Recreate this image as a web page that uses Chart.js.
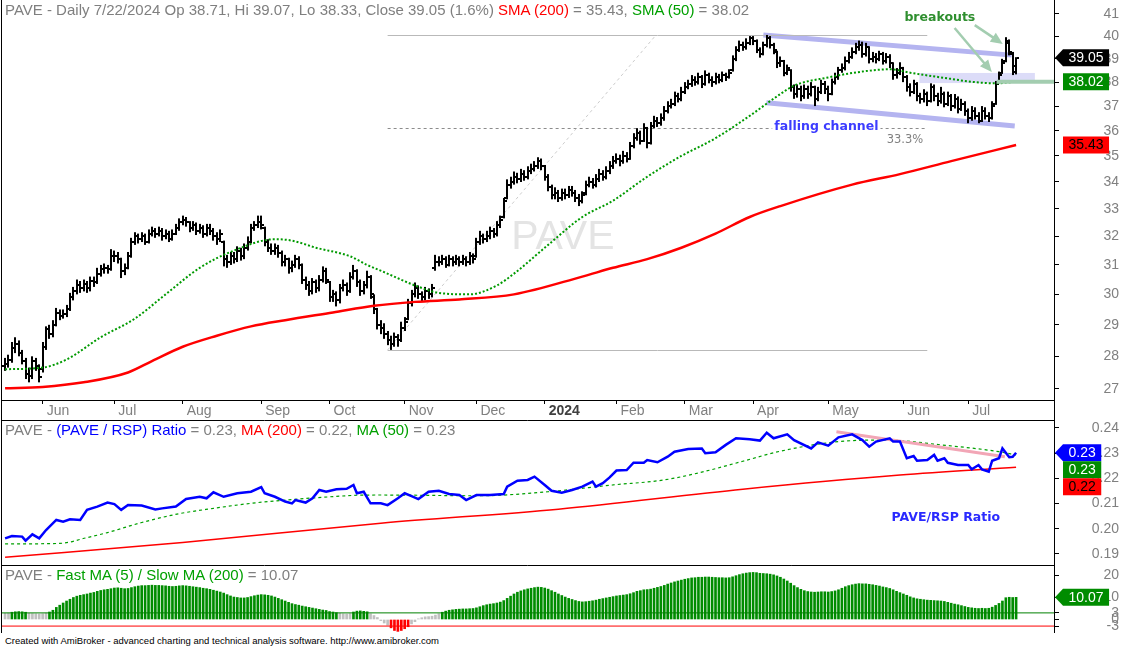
<!DOCTYPE html>
<html>
<head>
<meta charset="utf-8">
<title>PAVE Daily</title>
<script src="https://cdn.jsdelivr.net/npm/chart.js@4.4.1/dist/chart.umd.min.js"></script>
<style>
  html, body { margin:0; padding:0; background:#fff; }
  #wrap { position:relative; width:1123px; height:647px; overflow:hidden; background:#fff; }
  canvas { position:absolute; left:0; }
  .ttl { position:absolute; left:5px; white-space:nowrap; font-family:"Liberation Sans", Arial, sans-serif; font-size:15px; line-height:16px; color:#7f7f7f; }
  .r { color:#ff0000; } .g { color:#00a000; } .b { color:#0000ff; }
  .foot { position:absolute; left:5px; top:636px; font-family:"Liberation Sans", Arial, sans-serif; font-size:9.5px; line-height:10px; color:#000; white-space:nowrap; }
</style>
</head>
<body>
<div id="wrap">
  <canvas id="cTop" width="1123" height="420" style="top:0;width:1123px;height:420px"></canvas>
  <canvas id="cMid" width="1123" height="145" style="top:420px;width:1123px;height:145px"></canvas>
  <canvas id="cBot" width="1123" height="68" style="top:565px;width:1123px;height:68px"></canvas>
  <div class="ttl" id="tTop" style="top:2px"></div>
  <div class="ttl" id="tMid" style="top:422px"></div>
  <div class="ttl" id="tBot" style="top:567px"></div>
  <div class="foot">Created with AmiBroker - advanced charting and technical analysis software. http://www.amibroker.com</div>
</div>
<script>
// ---------- categories / ticks ----------
const monthLabels = ['Jun','Jul','Aug','Sep','Oct','Nov','Dec','2024','Feb','Mar','Apr','May','Jun','Jul'];
const monthStart  = [11,32,52,75,95,117,138,158,179,199,219,241,263,282];
const priceTicks  = [27,28,29,30,31,32,33,34,35,36,37,38,39,40,41];
const ratioTicks  = [0.19,0.20,0.21,0.22,0.23,0.24];
const oscTicks    = [20,10,3,0,-3];

// ---------- PAVE daily OHLC (16 May 2023 .. 22 Jul 2024) ----------
const opens = [
27.70,27.75,27.90,28.25,28.40,28.10,27.85,27.45,27.40,27.85,27.70,
27.60,28.30,28.85,28.70,29.00,29.40,29.30,29.35,29.50,29.90,30.10,30.30,30.20,30.35,30.20,30.45,30.40,30.70,30.85,30.90,30.85,
31.30,31.30,31.20,30.80,30.90,31.30,31.80,32.00,31.90,32.00,31.80,32.10,32.20,32.10,32.20,32.00,32.10,31.90,32.10,32.30,
32.50,32.60,32.50,32.30,32.40,32.20,32.30,32.10,32.30,32.20,32.00,31.90,31.80,31.20,31.10,31.30,31.20,31.50,31.30,31.60,31.80,32.30,32.40,
32.50,32.30,31.80,31.60,31.50,31.60,31.40,31.10,31.20,30.90,31.00,31.20,31.00,30.50,30.30,30.10,30.40,30.20,30.50,30.80,
30.40,29.90,30.00,29.80,30.20,30.30,30.10,30.60,30.80,30.40,30.10,30.30,30.60,29.90,29.50,29.00,28.90,28.70,28.50,28.40,28.60,28.50,
28.90,29.20,29.70,30.00,30.20,30.00,29.90,30.10,30.00,30.90,31.10,31.10,31.20,31.00,31.20,31.10,31.20,31.10,31.20,31.10,31.30,
31.30,31.80,32.00,31.90,32.00,32.20,32.10,32.40,32.70,33.40,33.90,34.00,34.20,34.10,34.30,34.20,34.40,34.50,34.60,34.80,
34.60,34.20,33.80,33.50,33.60,33.40,33.60,33.50,33.70,33.60,33.40,33.30,33.60,33.90,34.00,33.90,34.10,34.30,34.20,34.40,34.60,
34.80,34.90,34.80,35.00,34.90,35.40,35.70,35.90,35.60,36.10,35.50,36.20,36.40,36.30,36.50,36.80,37.00,37.10,37.40,37.30,
37.60,37.80,37.90,38.10,38.00,38.20,37.90,38.30,38.10,38.00,38.20,38.10,38.30,38.20,38.50,39.00,39.40,39.60,39.50,39.70,
39.90,39.80,39.40,39.20,39.60,39.90,39.60,39.30,38.80,38.90,38.40,38.50,37.80,37.50,37.70,37.40,37.70,37.50,37.80,37.30,37.60,37.90,
37.70,37.50,38.00,38.20,38.50,38.60,38.90,39.10,39.30,39.50,39.60,39.20,39.50,39.00,39.10,39.00,39.20,38.90,39.10,38.80,38.30,38.40,
38.60,38.20,37.80,37.60,37.90,37.40,37.30,37.50,37.20,37.80,37.40,37.20,37.50,37.10,37.40,37.00,37.30,36.90,37.10,
36.80,36.50,36.80,36.60,36.40,36.80,36.60,36.50,37.10,38.00,38.40,38.90,39.70,39.20,38.71];
const highs = [
27.95,28.05,28.45,28.60,28.50,28.20,27.95,27.65,28.00,27.95,27.75,
28.45,28.95,29.00,29.15,29.55,29.50,29.50,29.65,30.05,30.25,30.50,30.45,30.50,30.45,30.60,30.60,30.90,31.00,31.05,31.00,31.55,
31.50,31.45,31.25,31.05,31.45,31.95,32.15,32.10,32.15,32.10,32.25,32.35,32.30,32.35,32.30,32.25,32.20,32.25,32.45,32.65,
32.75,32.70,32.55,32.55,32.50,32.45,32.40,32.45,32.45,32.30,32.15,32.25,31.85,31.35,31.45,31.45,31.65,31.60,31.75,32.00,32.45,32.55,32.75,
32.75,32.35,31.90,31.75,31.75,31.70,31.50,31.35,31.25,31.15,31.35,31.30,31.05,30.60,30.45,30.55,30.50,30.65,30.95,30.90,
30.45,30.15,30.10,30.35,30.50,30.40,30.75,31.00,30.85,30.50,30.45,30.80,30.65,30.00,29.55,29.15,29.05,28.80,28.65,28.75,28.70,29.10,
29.25,29.85,30.15,30.40,30.30,30.10,30.25,30.20,30.35,31.35,31.30,31.35,31.30,31.35,31.30,31.35,31.30,31.35,31.30,31.45,31.40,
31.95,32.20,32.10,32.20,32.35,32.30,32.55,32.75,33.40,34.10,34.20,34.40,34.35,34.50,34.45,34.60,34.70,34.80,34.95,34.90,
34.65,34.30,33.90,33.80,33.70,33.75,33.75,33.85,33.85,33.70,33.55,33.65,34.05,34.20,34.15,34.30,34.50,34.45,34.60,34.80,35.00,
35.10,35.05,35.20,35.15,35.55,35.90,36.10,36.00,36.30,36.15,36.35,36.60,36.55,36.70,37.00,37.20,37.30,37.60,37.55,37.80,
38.00,38.10,38.30,38.25,38.40,38.30,38.50,38.40,38.25,38.40,38.35,38.45,38.40,38.55,39.15,39.55,39.80,39.75,39.90,40.00,
40.00,39.85,39.50,39.75,40.05,40.00,39.70,39.35,39.10,38.95,38.75,38.55,37.90,37.90,37.85,37.90,37.85,38.00,37.85,37.80,38.10,38.05,
37.85,38.15,38.40,38.65,38.80,39.10,39.30,39.50,39.70,39.80,39.75,39.70,39.55,39.30,39.25,39.35,39.30,39.25,39.20,38.85,38.60,38.85,
38.65,38.30,37.95,38.10,38.00,37.55,37.70,37.60,37.95,37.90,37.55,37.80,37.60,37.60,37.50,37.50,37.40,37.30,37.20,
36.90,37.00,36.95,36.75,37.00,36.95,36.75,37.20,38.05,38.45,39.00,39.95,39.85,39.30,39.07];
const lows = [
27.55,27.65,27.80,28.10,28.00,27.75,27.30,27.20,27.30,27.55,27.20,
27.50,28.20,28.55,28.60,28.95,29.15,29.20,29.25,29.45,29.80,30.00,30.05,30.10,30.05,30.10,30.25,30.35,30.60,30.70,30.70,30.80,
31.10,31.05,30.55,30.65,30.85,31.25,31.70,31.75,31.80,31.70,31.75,32.00,31.95,32.00,31.85,31.90,31.80,31.85,32.05,32.20,
32.40,32.35,32.15,32.20,32.05,32.10,31.95,32.00,32.05,31.85,31.70,31.80,30.95,30.90,31.00,31.05,31.10,31.15,31.20,31.50,31.75,32.20,32.30,
32.25,31.65,31.45,31.35,31.35,31.25,30.95,30.95,30.70,30.75,30.90,30.85,30.35,30.15,29.95,30.00,30.05,30.10,30.40,30.35,
29.75,29.75,29.60,29.70,30.10,29.95,30.05,30.50,30.25,29.95,30.00,30.20,29.85,29.35,28.85,28.70,28.55,28.35,28.20,28.30,28.30,28.45,
28.80,29.15,29.60,29.90,29.85,29.75,29.80,29.85,29.90,30.80,30.95,31.00,30.90,30.95,30.95,31.00,30.95,31.00,30.95,31.00,31.05,
31.25,31.70,31.75,31.80,31.90,31.95,32.00,32.30,32.65,33.35,33.75,33.90,33.95,34.00,34.05,34.10,34.30,34.40,34.50,34.45,
34.05,33.65,33.35,33.35,33.25,33.30,33.35,33.40,33.45,33.25,33.10,33.20,33.50,33.80,33.75,33.80,34.00,34.05,34.10,34.30,34.50,
34.70,34.60,34.70,34.75,34.85,35.30,35.60,35.45,35.55,35.30,35.45,36.10,36.15,36.20,36.40,36.70,36.90,37.00,37.15,37.20,
37.50,37.70,37.80,37.85,37.90,37.75,37.85,37.95,37.80,37.90,37.95,38.00,38.05,38.15,38.45,38.90,39.30,39.35,39.40,39.60,
39.60,39.25,39.05,39.15,39.50,39.45,39.20,38.60,38.65,38.25,38.30,37.60,37.30,37.35,37.20,37.30,37.30,37.40,37.00,37.20,37.50,37.50,
37.20,37.45,37.90,38.10,38.40,38.50,38.80,39.00,39.20,39.35,39.05,39.10,38.80,38.85,38.80,38.90,38.75,38.80,38.60,38.10,38.15,38.30,
38.00,37.60,37.40,37.50,37.20,37.10,37.15,37.00,37.15,37.20,37.00,37.10,36.95,37.00,36.80,36.90,36.70,36.80,36.60,
36.30,36.40,36.45,36.30,36.35,36.45,36.35,36.45,37.05,37.95,38.35,38.85,39.15,38.30,38.33];
const closes = [
27.75,27.90,28.25,28.40,28.10,27.85,27.45,27.40,27.85,27.70,27.35,
28.30,28.85,28.70,29.00,29.40,29.30,29.35,29.50,29.90,30.10,30.30,30.20,30.35,30.20,30.45,30.40,30.70,30.85,30.90,30.85,31.30,
31.30,31.20,30.80,30.90,31.30,31.80,32.00,31.90,32.00,31.80,32.10,32.20,32.10,32.20,32.00,32.10,31.90,32.10,32.30,32.50,
32.60,32.50,32.30,32.40,32.20,32.30,32.10,32.30,32.20,32.00,31.90,32.10,31.20,31.10,31.30,31.20,31.50,31.30,31.60,31.80,32.30,32.40,32.50,
32.40,31.80,31.60,31.50,31.60,31.40,31.10,31.20,30.90,31.00,31.20,31.00,30.50,30.30,30.10,30.40,30.20,30.50,30.80,30.50,
29.90,30.00,29.80,30.20,30.30,30.10,30.60,30.80,30.40,30.10,30.30,30.60,30.00,29.50,29.00,28.90,28.70,28.50,28.40,28.60,28.50,28.90,
29.10,29.70,30.00,30.20,30.00,29.90,30.10,30.00,30.20,31.10,31.10,31.20,31.00,31.20,31.10,31.20,31.10,31.20,31.10,31.30,31.20,
31.80,32.00,31.90,32.00,32.20,32.10,32.40,32.60,33.30,33.90,34.00,34.20,34.10,34.30,34.20,34.40,34.50,34.60,34.80,34.60,
34.20,33.80,33.50,33.60,33.40,33.60,33.50,33.70,33.60,33.40,33.30,33.50,33.90,34.00,33.90,34.10,34.30,34.20,34.40,34.60,34.80,
34.90,34.80,35.00,34.90,35.40,35.70,35.90,35.60,36.10,35.50,36.20,36.40,36.30,36.50,36.80,37.00,37.10,37.40,37.30,37.60,
37.80,37.90,38.10,38.00,38.20,37.90,38.30,38.10,38.00,38.20,38.10,38.30,38.20,38.40,39.00,39.40,39.60,39.50,39.70,39.90,
39.80,39.40,39.20,39.60,39.90,39.60,39.40,38.80,38.90,38.40,38.60,37.80,37.50,37.70,37.40,37.70,37.50,37.80,37.30,37.60,37.90,37.70,
37.50,38.00,38.20,38.50,38.60,38.90,39.10,39.30,39.50,39.60,39.20,39.50,39.00,39.10,39.00,39.20,38.90,39.10,38.80,38.30,38.40,38.60,
38.20,37.80,37.60,37.90,37.40,37.30,37.50,37.20,37.80,37.40,37.20,37.50,37.10,37.40,37.00,37.30,36.90,37.10,36.80,
36.50,36.80,36.60,36.40,36.80,36.60,36.50,37.00,37.90,38.30,38.80,39.80,39.30,38.44,39.05];

// moving averages (bar index -> value)
const sma200Idx = [0,11,23,36,43,52,62,72,82,96,108,120,133,149,169,178,188,198,208,218,227,248,262,277,296];
const sma200Val = [27.02,27.06,27.2,27.5,27.85,28.3,28.65,28.95,29.15,29.4,29.62,29.75,29.83,30.0,30.6,30.9,31.2,31.6,32.1,32.7,33.1,33.9,34.3,34.8,35.43];
const sma50Idx = [0,11,18,28,38,47,57,67,79,84,91,101,106,111,120,127,136,144,149,159,169,178,188,198,208,218,227,231,241,251,259,265,274,284,290,296];
const sma50Val = [27.6,27.65,27.9,28.6,29.2,30.0,30.9,31.5,31.9,31.85,31.6,31.3,31.0,30.75,30.3,30.05,30.0,30.3,30.7,31.7,32.7,33.3,34.2,35.0,35.7,36.6,37.5,37.85,38.2,38.45,38.55,38.4,38.2,38.0,37.95,38.02];

// ---------- PAVE / RSP ratio ----------
const ratioIdx = [0,2,5,6,8,10,12,15,17,19,22,24,27,30,32,34,36,40,44,46,50,53,57,59,61,64,68,72,75,76,79,82,84,85,88,90,92,94,97,100,102,103,105,107,110,112,115,117,119,121,124,127,130,133,135,138,142,146,147,150,153,155,158,160,163,166,169,172,173,175,177,179,182,184,187,188,191,194,196,200,204,205,208,211,214,218,221,223,225,229,231,236,238,241,244,248,251,253,255,259,260,262,264,266,267,270,272,273,275,276,279,282,283,285,286,288,289,291,292,294,295,296];
const ratioVal = [0.1962,0.1971,0.1969,0.1953,0.1978,0.1962,0.1995,0.2035,0.2028,0.2038,0.2035,0.2075,0.2088,0.2104,0.2098,0.2075,0.2094,0.2092,0.2077,0.2081,0.2088,0.2118,0.2127,0.2121,0.2145,0.2127,0.2141,0.2147,0.2165,0.2141,0.2127,0.2108,0.2101,0.2114,0.2104,0.2121,0.2154,0.2147,0.2157,0.2159,0.2174,0.2141,0.2147,0.2101,0.2101,0.2094,0.2121,0.2141,0.2130,0.2118,0.2147,0.2151,0.2138,0.2134,0.2114,0.2134,0.2134,0.2138,0.2167,0.2191,0.2194,0.2207,0.2174,0.2151,0.2143,0.2154,0.2167,0.2187,0.2167,0.2181,0.2204,0.2231,0.2233,0.2262,0.2262,0.2273,0.2264,0.2286,0.2306,0.2317,0.2319,0.2300,0.2304,0.2333,0.2359,0.2355,0.2350,0.2381,0.2359,0.2375,0.2352,0.2319,0.2343,0.2330,0.2363,0.2375,0.2352,0.2326,0.2346,0.2359,0.2346,0.2346,0.2280,0.2289,0.2270,0.2273,0.2293,0.2270,0.2280,0.2262,0.2253,0.2253,0.2236,0.2253,0.2236,0.2227,0.2270,0.2280,0.2319,0.2284,0.2286,0.2302];
const ratioMa200Idx = [0,52,110,162,216,262,296];
const ratioMa200Val = [0.1887,0.1946,0.2022,0.2078,0.2157,0.2213,0.2244];
const ratioMa50Idx = [0,16,24,30,40,51,61,72,82,93,103,110,139,159,178,193,204,216,227,244,258,274,291,296];
const ratioMa50Val = [0.1940,0.1942,0.1965,0.1985,0.2025,0.2060,0.2081,0.2101,0.2114,0.2125,0.2133,0.2134,0.2131,0.2147,0.2174,0.2194,0.2225,0.2268,0.2308,0.2346,0.2352,0.2333,0.2306,0.2293];

// ---------- Fast MA(5) / Slow MA(200) oscillator ----------
const oscVal = [
2.8,2.9,3.3,3.5,3.6,3.5,3.3,2.8,2.7,2.6,2.5,2.6,2.9,
3.4,4.2,5.5,6.5,7.5,8.4,9.2,10.0,10.6,11.0,11.3,11.6,12.0,12.3,12.8,13.2,13.5,13.7,14.0,
14.3,14.4,14.2,14.0,14.1,14.5,14.9,15.2,15.4,15.4,15.5,15.6,15.5,15.5,15.4,15.3,15.1,15.0,15.1,15.3,
15.4,15.3,15.1,14.9,14.7,14.5,14.2,14.0,13.7,13.3,12.9,12.5,12.0,11.3,10.7,10.2,10.0,9.8,9.8,10.0,10.4,10.8,11.1,
11.3,11.2,11.0,10.7,10.2,9.6,9.0,8.4,7.8,7.2,6.8,6.5,6.1,5.8,5.5,5.2,4.9,4.6,4.3,4.1,
3.6,3.4,3.1,2.8,2.6,2.5,2.7,3.4,3.8,3.9,3.7,3.5,2.6,1.8,0.9,-0.5,-1.6,-2.6,-3.8,-5.0,-5.4,-5.0,-4.2,-3.3,-2.0,-1.0,
0.3,0.8,1.2,1.3,1.5,2.0,2.6,3.3,3.8,4.2,4.4,4.6,4.7,4.8,4.8,4.9,5.0,
5.3,5.8,6.3,6.7,7.0,7.2,7.5,7.9,8.6,9.6,10.6,11.6,12.4,13.0,13.5,13.9,14.2,14.5,14.7,14.6,
14.3,13.8,13.1,12.4,11.6,10.9,10.2,9.6,9.1,8.6,8.2,8.0,8.1,8.3,8.5,8.8,9.2,9.5,9.8,10.1,10.4,
10.7,10.9,11.1,11.3,11.7,12.2,12.8,13.1,13.5,13.6,13.8,14.2,14.6,15.0,15.5,16.1,16.6,17.1,17.5,17.9,
18.3,18.6,18.9,19.0,19.2,19.2,19.3,19.3,19.2,19.1,19.0,19.0,18.9,19.0,19.4,19.9,20.4,20.8,21.1,21.3,
21.4,21.3,21.0,20.9,20.8,20.6,20.3,19.8,19.2,18.4,17.5,16.5,15.4,14.5,13.7,13.1,12.7,12.5,12.4,12.5,12.6,12.6,
12.5,12.7,13.0,13.5,14.2,14.9,15.4,15.8,16.1,16.3,16.2,16.2,16.0,15.8,15.5,15.2,14.8,14.5,14.1,13.5,12.8,12.2,
11.6,11.0,10.3,9.8,9.4,9.2,9.0,8.8,8.7,8.6,8.5,8.4,8.2,7.8,7.4,7.0,6.7,6.3,5.9,
5.5,5.3,5.1,5.0,5.1,5.0,5.1,5.6,6.4,7.3,8.4,9.9,10.1,10.0,10.07];
const oscUpper = 3, oscLower = -3;

// ---------- drawn annotations (anchored in data coordinates: [barIndex, value]) ----------
const fibStartIdx = 112, fibEndIdx = 270, fibDiagEndIdx = 190.6;
const fibLow = 28.2, fibHigh = 40.05, fibRatio = 0.333;
const channelUpper = [[222.0, 40.05], [294.7, 39.16]];
const channelLower = [[222.9, 37.14], [295.6, 36.19]];
const breakoutBand = [[267.7, 37.96], [301.5, 38.39]];
const arrowA = [[283.9, 40.49], [292.1, 39.65]];
const arrowB = [[278.0, 40.36], [288.9, 38.43]];
const levelLine = [[290.3, 38.02], [307.1, 38.02]];
const labelChannel = [225.2, 36.17];
const labelBreakouts = [263.3, 40.81];
const labelFib = [258.1, 35.63];
const watermarkAt = [163.3, 31.94];
const trendRatio = [[243.4, 0.2385], [292.7, 0.2286]];
const labelRatio = [259.5, 0.2043];

// ---------- helpers ----------
const FONT = '"Liberation Sans", Arial, Helvetica, sans-serif';
const VFONT = '"DejaVu Sans", Verdana, sans-serif';
const X_MIN = -0.9, X_MAX = 307.1;
const last = closes.length - 1;
const pts = (ix, vals) => ix.map((x, k) => ({x, y: vals[k]}));

// titles (real DOM text)
document.getElementById('tTop').innerHTML =
  'PAVE - Daily 7/22/2024 Op ' + opens[last].toFixed(2) + ', Hi ' + highs[last].toFixed(2) + ', Lo ' + lows[last].toFixed(2) +
  ', Close ' + closes[last].toFixed(2) + ' (' + ((closes[last] / closes[last - 1] - 1) * 100).toFixed(1) + '%) ' +
  '<span class="r">SMA (200)</span> = ' + sma200Val[sma200Val.length - 1].toFixed(2) + ', <span class="g">SMA (50)</span> = ' + sma50Val[sma50Val.length - 1].toFixed(2);
document.getElementById('tMid').innerHTML =
  'PAVE - <span class="b">(PAVE / RSP) Ratio</span> = ' + ratioVal[ratioVal.length - 1].toFixed(2) +
  ', <span class="r">MA (200)</span> = ' + ratioMa200Val[ratioMa200Val.length - 1].toFixed(2) +
  ', <span class="g">MA (50)</span> = ' + ratioMa50Val[ratioMa50Val.length - 1].toFixed(2);
document.getElementById('tBot').innerHTML =
  'PAVE - <span class="g">Fast MA (5) / Slow MA (200)</span> = ' + oscVal[oscVal.length - 1].toFixed(2);

function zeroPad(s) { s.paddingTop = 0; s.paddingBottom = 0; s.paddingLeft = 0; s.paddingRight = 0; }

function xAxis(show) {
  const ax = { type: 'linear', min: X_MIN, max: X_MAX, bounds: 'data', offset: false, display: show, grid: { offset: false } };
  if (show) Object.assign(ax, {
    position: 'bottom',
    afterFit(s) { s.height = 20; zeroPad(s); },
    afterBuildTicks(s) { s.ticks = monthStart.map(v => ({value: v})); },
    grid: { drawOnChartArea: false, drawTicks: true, tickLength: 4, color: '#000', offset: false },
    border: { display: true, color: '#000', width: 1 },
    ticks: {
      autoSkip: false, maxRotation: 0, minRotation: 0, align: 'start', labelOffset: 4, padding: -1,
      callback: (v, i) => monthLabels[i],
      color: c => monthLabels[c.index] === '2024' ? '#404040' : '#808080',
      font: c => ({ family: FONT, size: 14, weight: monthLabels[c.index] === '2024' ? 'bold' : 'normal' })
    }
  });
  return ax;
}

function yAxis(type, min, max, tickVals, fmt) {
  return {
    type, position: 'right', min, max, bounds: 'data',
    afterFit(s) { s.width = 65; zeroPad(s); },
    afterBuildTicks(s) { s.ticks = tickVals.map(v => ({value: v})); },
    grid: { drawOnChartArea: false, drawTicks: true, tickLength: 5, color: '#000', lineWidth: 1 },
    border: { display: true, color: '#000', width: 1 },
    ticks: { autoSkip: false, crossAlign: 'far', padding: 4, color: '#808080', font: { family: FONT, size: 14 }, callback: fmt }
  };
}

function drawTags(chart, tags) {
  const ctx = chart.ctx, ys = chart.scales.y, ax = Math.round(chart.chartArea.right);
  const H = 17;
  let prevBottom = -Infinity;
  ctx.save();
  ctx.font = '14px ' + FONT;
  ctx.textBaseline = 'middle';
  ctx.textAlign = 'center';
  tags.forEach(t => {
    let top = ys.getPixelForValue(t.value) - H / 2;
    if (top < prevBottom) top = prevBottom;
    prevBottom = top + H;
    const txt = t.value.toFixed(2);
    const w = ctx.measureText(txt).width + 11;
    const x0 = ax + 9;
    ctx.fillStyle = t.bg;
    ctx.beginPath();
    if (t.arrow) {
      ctx.moveTo(ax + 1, top + H / 2); ctx.lineTo(x0, top); ctx.lineTo(x0 + w, top);
      ctx.lineTo(x0 + w, top + H); ctx.lineTo(x0, top + H); ctx.closePath();
    } else {
      ctx.rect(x0, top, w, H);
    }
    ctx.fill();
    ctx.fillStyle = t.fg;
    ctx.fillText(txt, x0 + w / 2, top + H / 2 + 0.5);
  });
  ctx.restore();
}

function drawFrame(chart, opts) {
  const ctx = chart.ctx, a = chart.chartArea, H = chart.height;
  const rx = Math.round(a.right) + 0.5;
  ctx.save();
  ctx.strokeStyle = '#000'; ctx.lineWidth = 1;
  ctx.beginPath();
  ctx.moveTo(1.5, 0); ctx.lineTo(1.5, H);
  ctx.moveTo(rx, 0); ctx.lineTo(rx, H);
  if (opts.topLine) { ctx.moveTo(1, 0.5); ctx.lineTo(rx, 0.5); }
  if (opts.bottomAt !== undefined) { ctx.moveTo(1, opts.bottomAt + 0.5); ctx.lineTo(rx, opts.bottomAt + 0.5); }
  ctx.stroke();
  ctx.restore();
}

function arrow(ctx, x1, y1, x2, y2, color, lw, head) {
  const a = Math.atan2(y2 - y1, x2 - x1), c = Math.cos(a), s = Math.sin(a);
  ctx.strokeStyle = color; ctx.fillStyle = color; ctx.lineWidth = lw;
  ctx.beginPath(); ctx.moveTo(x1, y1); ctx.lineTo(x2 - head * 0.8 * c, y2 - head * 0.8 * s); ctx.stroke();
  ctx.beginPath(); ctx.moveTo(x2, y2);
  ctx.lineTo(x2 - head * c + head * 0.45 * s, y2 - head * s - head * 0.45 * c);
  ctx.lineTo(x2 - head * c - head * 0.45 * s, y2 - head * s + head * 0.45 * c);
  ctx.closePath(); ctx.fill();
}

function labelWithBg(ctx, text, x, y, color, font) {
  ctx.font = font; ctx.textAlign = 'left'; ctx.textBaseline = 'middle';
  const w = ctx.measureText(text).width;
  ctx.fillStyle = '#fff'; ctx.fillRect(x - 2, y - 7, w + 4, 14);
  ctx.fillStyle = color; ctx.fillText(text, x, y);
}

const common = {
  responsive: false, animation: false, devicePixelRatio: 1, events: [],
  layout: { padding: { left: 2, right: 4, top: 0, bottom: 0 } },
  plugins: { legend: { display: false }, tooltip: { enabled: false }, title: { display: false } }
};

// ---------- price pane ----------
const topPlugin = {
  id: 'pricePane',
  beforeDatasetsDraw(chart) {
    const { ctx, chartArea: a, scales: { x, y } } = chart;
    const X = v => x.getPixelForValue(v), Y = v => y.getPixelForValue(v);
    ctx.save();
    ctx.beginPath(); ctx.rect(a.left, a.top, a.right - a.left, a.bottom - a.top); ctx.clip();
    // watermark
    ctx.fillStyle = '#e4e4e4'; ctx.font = '41px ' + FONT; ctx.textAlign = 'center'; ctx.textBaseline = 'middle';
    ctx.fillText('PAVE', X(watermarkAt[0]), Y(watermarkAt[1]));
    // breakout band
    ctx.fillStyle = '#dcdcf8';
    const bx0 = X(breakoutBand[0][0]), bx1 = X(breakoutBand[1][0]);
    const by0 = Y(breakoutBand[1][1]), by1 = Y(breakoutBand[0][1]);
    ctx.fillRect(bx0, by0, bx1 - bx0, by1 - by0);
    // falling channel
    ctx.strokeStyle = '#b4b4f0'; ctx.lineWidth = 5; ctx.lineCap = 'butt';
    [channelUpper, channelLower].forEach(s => {
      ctx.beginPath(); ctx.moveTo(X(s[0][0]), Y(s[0][1])); ctx.lineTo(X(s[1][0]), Y(s[1][1])); ctx.stroke();
    });
    // fibonacci retracement
    const fx0 = X(fibStartIdx), fx1 = X(fibEndIdx);
    ctx.lineWidth = 1; ctx.strokeStyle = '#b9b9b9';
    [fibHigh, fibLow].forEach(v => {
      const yy = Math.round(Y(v)) + 0.5;
      ctx.beginPath(); ctx.moveTo(fx0, yy); ctx.lineTo(fx1, yy); ctx.stroke();
    });
    const fibLevel = fibHigh - fibRatio * (fibHigh - fibLow);
    ctx.setLineDash([3, 3]); ctx.strokeStyle = '#8c8c8c';
    const ly = Math.round(Y(fibLevel)) + 0.5;
    ctx.beginPath(); ctx.moveTo(fx0, ly); ctx.lineTo(fx1, ly); ctx.stroke();
    ctx.strokeStyle = '#cccccc';
    ctx.beginPath(); ctx.moveTo(fx0, Y(fibLow)); ctx.lineTo(X(fibDiagEndIdx), Y(fibHigh)); ctx.stroke();
    ctx.setLineDash([]);
    // OHLC bars
    ctx.fillStyle = '#000';
    for (let i = 0; i < closes.length; i++) {
      const px = Math.round(X(i));
      const yh = Y(highs[i]), yl = Y(lows[i]);
      const yo = Math.round(Y(opens[i])), yc = Math.round(Y(closes[i]));
      ctx.fillRect(px - 1, yh, 2, Math.max(1, yl - yh));
      ctx.fillRect(px - 3, yo - 1, 2, 2);
      ctx.fillRect(px + 1, yc - 1, 2, 2);
    }
    ctx.restore();
  },
  afterDatasetsDraw(chart) {
    const { ctx, chartArea: a, scales: { x, y } } = chart;
    const X = v => x.getPixelForValue(v), Y = v => y.getPixelForValue(v);
    ctx.save();
    ctx.beginPath(); ctx.rect(a.left, a.top, a.right - a.left, a.bottom - a.top); ctx.clip();
    const g = '#a3cdb0';
    ctx.strokeStyle = g; ctx.lineWidth = 4;
    ctx.beginPath(); ctx.moveTo(X(levelLine[0][0]), Y(levelLine[0][1])); ctx.lineTo(X(levelLine[1][0]), Y(levelLine[1][1])); ctx.stroke();
    arrow(ctx, X(arrowA[0][0]), Y(arrowA[0][1]), X(arrowA[1][0]), Y(arrowA[1][1]), g, 2.5, 12);
    arrow(ctx, X(arrowB[0][0]), Y(arrowB[0][1]), X(arrowB[1][0]), Y(arrowB[1][1]), g, 2.5, 12);
    labelWithBg(ctx, 'falling channel', X(labelChannel[0]), Y(labelChannel[1]), '#3c3cff', 'bold 12.5px ' + VFONT);
    ctx.font = 'bold 12.5px ' + VFONT; ctx.fillStyle = '#2f8f2f'; ctx.textAlign = 'left'; ctx.textBaseline = 'middle';
    ctx.fillText('breakouts', X(labelBreakouts[0]), Y(labelBreakouts[1]));
    ctx.font = '11.5px ' + VFONT; ctx.fillStyle = '#808080';
    ctx.fillText((fibRatio * 100).toFixed(1) + '%', X(labelFib[0]), Y(labelFib[1]));
    ctx.restore();
  },
  afterDraw(chart) {
    drawTags(chart, [
      { value: closes[last], bg: '#000000', fg: '#ffffff', arrow: true },
      { value: sma50Val[sma50Val.length - 1], bg: '#008c00', fg: '#ffffff' },
      { value: sma200Val[sma200Val.length - 1], bg: '#ff0000', fg: '#000000' }
    ]);
    drawFrame(chart, { bottomAt: Math.round(chart.chartArea.bottom) });
  }
};

new Chart(document.getElementById('cTop'), {
  type: 'line',
  data: { datasets: [
    { label: 'SMA (200)', data: pts(sma200Idx, sma200Val), borderColor: '#ff0000', borderWidth: 2.5, pointRadius: 0, cubicInterpolationMode: 'monotone' },
    { label: 'SMA (50)', data: pts(sma50Idx, sma50Val), borderColor: '#009a00', borderWidth: 2, borderDash: [2, 2], pointRadius: 0, cubicInterpolationMode: 'monotone' }
  ]},
  options: Object.assign({}, common, {
    scales: { x: xAxis(true), y: yAxis('logarithmic', 26.67, 41.64, priceTicks, v => String(v)) }
  }),
  plugins: [topPlugin]
});

// ---------- ratio pane ----------
const midPlugin = {
  id: 'ratioPane',
  afterDatasetsDraw(chart) {
    const { ctx, scales: { x, y } } = chart;
    ctx.save();
    ctx.font = 'bold 12.5px ' + VFONT; ctx.fillStyle = '#2a2aff'; ctx.textAlign = 'left'; ctx.textBaseline = 'middle';
    ctx.fillText('PAVE/RSP Ratio', x.getPixelForValue(labelRatio[0]), y.getPixelForValue(labelRatio[1]));
    ctx.restore();
  },
  afterDraw(chart) {
    drawTags(chart, [
      { value: ratioVal[ratioVal.length - 1], bg: '#0000ff', fg: '#ffffff', arrow: true },
      { value: ratioMa50Val[ratioMa50Val.length - 1], bg: '#008c00', fg: '#ffffff' },
      { value: ratioMa200Val[ratioMa200Val.length - 1], bg: '#ff0000', fg: '#000000' }
    ]);
    drawFrame(chart, { topLine: true });
  }
};

new Chart(document.getElementById('cMid'), {
  type: 'line',
  data: { datasets: [
    { label: '(PAVE / RSP) Ratio', data: pts(ratioIdx, ratioVal), borderColor: '#0000ff', borderWidth: 2.5, pointRadius: 0 },
    { label: 'trend', data: pts(trendRatio.map(p => p[0]), trendRatio.map(p => p[1])), borderColor: '#f2a6b6', borderWidth: 3, pointRadius: 0 },
    { label: 'MA (50)', data: pts(ratioMa50Idx, ratioMa50Val), borderColor: '#00a000', borderWidth: 1.2, borderDash: [3, 3], pointRadius: 0, cubicInterpolationMode: 'monotone' },
    { label: 'MA (200)', data: pts(ratioMa200Idx, ratioMa200Val), borderColor: '#ff0000', borderWidth: 1.5, pointRadius: 0, cubicInterpolationMode: 'monotone' }
  ]},
  options: Object.assign({}, common, {
    scales: { x: xAxis(false), y: yAxis('linear', 0.18563, 0.24317, ratioTicks, v => Number(v).toFixed(2)) }
  }),
  plugins: [midPlugin]
});

// ---------- oscillator pane ----------
const botPlugin = {
  id: 'oscPane',
  afterDraw(chart) {
    drawTags(chart, [{ value: oscVal[oscVal.length - 1], bg: '#008c00', fg: '#ffffff', arrow: true }]);
    drawFrame(chart, { topLine: true });
  }
};

new Chart(document.getElementById('cBot'), {
  type: 'bar',
  data: { datasets: [
    { type: 'line', label: 'upper', data: [{x: X_MIN, y: oscUpper}, {x: X_MAX, y: oscUpper}], borderColor: '#008000', borderWidth: 1, pointRadius: 0 },
    { type: 'line', label: 'lower', data: [{x: X_MIN, y: oscLower}, {x: X_MAX, y: oscLower}], borderColor: '#ff0000', borderWidth: 1, pointRadius: 0 },
    { type: 'bar', label: 'Fast MA (5) / Slow MA (200)', data: oscVal.map((v, i) => ({x: i, y: v})),
      backgroundColor: c => { const v = c.raw ? c.raw.y : 0; return v > oscUpper ? '#008c00' : (v < oscLower ? '#ff0000' : '#c0c0c0'); },
      barThickness: 2, borderWidth: 0 }
  ]},
  options: Object.assign({}, common, {
    scales: { x: xAxis(false), y: yAxis('linear', -6.14, 24.77, oscTicks, v => String(v)) }
  }),
  plugins: [botPlugin]
});
</script>
</body>
</html>
